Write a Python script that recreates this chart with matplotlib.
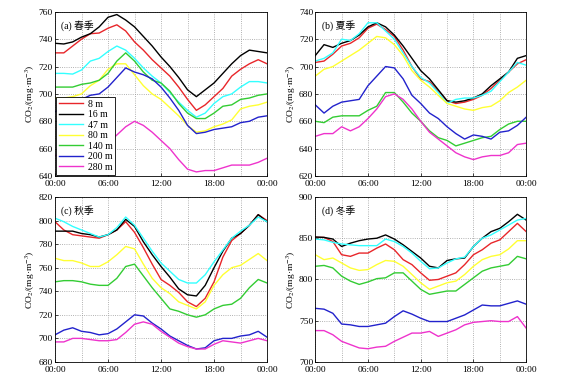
import numpy as np
import matplotlib
matplotlib.use('Agg')
import matplotlib.pyplot as plt
from matplotlib.ticker import MultipleLocator, FuncFormatter

plt.rcParams['font.family'] = ['Liberation Serif', 'Noto Sans CJK SC']
plt.rcParams['mathtext.fontset'] = 'stix'

# hours of the day
hours = np.arange(25)

heights = ['8 m', '16 m', '47 m', '80 m', '140 m', '200 m', '280 m']
colors = ['#e8262a', '#000000', '#33ffff', '#ffff33', '#33cc33', '#2222cc', '#ee33cc']

# (a) spring
spring_8 = [730, 730, 735, 740, 744, 744.5, 748, 750.5, 746, 738, 732, 725, 719, 713, 705, 696, 688, 692, 698, 704, 713, 718, 722, 725, 722]
spring_16 = [737, 736.5, 738, 741.5, 744, 749, 756, 758, 754, 749, 742, 735, 727, 720, 712, 703, 698, 703, 708, 715, 722, 728, 732, 731, 730]
spring_47 = [715, 715, 714.5, 717.5, 724, 726, 731, 735, 732, 726, 719, 713, 708, 701, 694, 688, 683, 686, 693, 698, 700, 705, 709, 709, 708]
spring_80 = [697, 697, 698, 700, 706, 710, 718, 722, 722, 714, 706, 700, 696, 690, 684, 677, 672, 673, 676, 678, 681, 689, 691, 692, 694]
spring_140 = [705, 705, 705, 707, 708, 710, 715, 724, 730, 724, 716, 710, 708, 702, 693, 686, 682, 682, 686, 691, 692, 696, 697, 699, 700]
spring_200 = [687, 690, 693, 696, 699, 700, 705, 712, 719, 716, 714, 711, 705, 697, 688, 677, 671, 672, 674, 675, 676, 679, 680, 683, 684]
spring_280 = [655, 656, 656, 658, 660, 662, 664, 670, 676, 680, 677, 672, 666, 660, 652, 645, 643, 644, 644, 646, 648, 648, 648, 650, 653]

# (b) summer
summer_8 = [703, 704, 709, 715, 717, 721, 728, 731, 727, 722, 712, 700, 691, 689, 682, 675, 673, 674, 676, 679, 684, 690, 696, 702, 705]
summer_16 = [708, 716, 714, 717, 719, 723, 729, 732, 729, 723, 715, 706, 697, 691, 683, 675, 674, 675, 677, 680, 686, 691, 696, 706, 708]
summer_47 = [704, 706, 710, 720, 719, 724, 732, 732, 726, 720, 710, 700, 692, 688, 681, 673, 676, 677, 677, 679, 682, 689, 696, 703, 701]
summer_80 = [693, 698, 700, 704, 708, 712, 717, 722, 721, 716, 708, 697, 690, 685, 679, 673, 671, 669, 668, 670, 671, 675, 681, 685, 690]
summer_140 = [660, 659, 663, 664, 664, 664, 668, 671, 681, 681, 674, 666, 660, 653, 648, 646, 642, 644, 646, 648, 649, 654, 658, 660, 660]
summer_200 = [672, 666, 671, 674, 675, 676, 686, 693, 700, 699, 691, 679, 673, 666, 662, 656, 651, 647, 650, 649, 647, 652, 653, 657, 663]
summer_280 = [649, 651, 651, 656, 653, 656, 662, 669, 678, 680, 676, 669, 660, 652, 647, 642, 637, 634, 632, 634, 635, 635, 637, 643, 644]

# (c) autumn
autumn_8 = [799, 792, 788, 787, 786, 785, 788, 792, 799, 790, 777, 763, 750, 745, 739, 731, 727, 734, 748, 769, 783, 789, 796, 805, 800]
autumn_16 = [791, 791, 791, 789, 788, 786, 788, 792, 801, 795, 782, 771, 761, 752, 742, 737, 736, 745, 760, 774, 785, 789, 796, 805, 799]
autumn_47 = [802, 799, 795, 792, 789, 786, 788, 794, 803, 796, 785, 774, 764, 757, 750, 747, 747, 754, 765, 775, 785, 791, 796, 803, 799]
autumn_80 = [768, 766, 766, 764, 761, 761, 765, 771, 778, 776, 763, 751, 743, 738, 731, 728, 725, 731, 745, 754, 760, 762, 767, 772, 766]
autumn_140 = [748, 749, 749, 748, 746, 745, 745, 751, 761, 763, 753, 743, 734, 725, 723, 720, 718, 720, 725, 728, 729, 734, 743, 750, 747]
autumn_200 = [703, 707, 709, 706, 705, 703, 704, 708, 714, 720, 719, 713, 708, 702, 698, 694, 691, 692, 698, 700, 700, 702, 703, 706, 701]
autumn_280 = [697, 697, 700, 700, 699, 698, 698, 699, 705, 712, 714, 712, 706, 701, 696, 693, 691, 691, 695, 698, 697, 696, 698, 700, 698]

# (d) winter
winter_8 = [851, 851, 846, 830, 828, 832, 832, 838, 843, 836, 824, 818, 808, 799, 800, 804, 808, 818, 830, 836, 844, 848, 858, 868, 858]
winter_16 = [851.5, 851, 849, 840, 844, 847, 849, 850, 854, 849, 842, 834, 826, 816, 814, 823, 825, 826, 840, 850, 858, 862, 870, 879, 872]
winter_47 = [849, 848, 845, 843, 842, 841, 841, 841, 849, 846, 840, 832, 822, 813, 814, 820, 825, 827, 840, 850, 854, 860, 866, 872, 874]
winter_80 = [830, 824, 826, 820, 814, 811, 812, 818, 823, 822, 816, 806, 796, 788, 792, 796, 798, 806, 816, 824, 828, 830, 837, 847, 847]
winter_140 = [816, 817, 814, 804, 798, 794, 797, 801, 802, 808, 808, 798, 788, 782, 784, 786, 786, 794, 802, 810, 814, 816, 818, 828, 825]
winter_200 = [765, 764, 759, 746, 745, 743, 743, 745, 747, 755, 762, 758, 753, 749, 749, 749, 753, 757, 763, 769, 768, 768, 771, 774, 770]
winter_280 = [738, 738, 733, 725, 721, 717, 716, 718, 719, 725, 730, 735, 735, 737, 731, 735, 739, 745, 748, 749, 750, 749, 749, 755, 741]

panels = [
    ('(a) 春季', [spring_8, spring_16, spring_47, spring_80, spring_140, spring_200, spring_280], (640, 760), 20),
    ('(b) 夏季', [summer_8, summer_16, summer_47, summer_80, summer_140, summer_200, summer_280], (620, 740), 20),
    ('(c) 秋季', [autumn_8, autumn_16, autumn_47, autumn_80, autumn_140, autumn_200, autumn_280], (680, 820), 20),
    ('(d) 冬季', [winter_8, winter_16, winter_47, winter_80, winter_140, winter_200, winter_280], (700, 900), 50),
]

fig = plt.figure(figsize=(5.67, 3.81), dpi=100)
boxes = [
    [0.097, 0.538, 0.374, 0.431],
    [0.556, 0.538, 0.372, 0.431],
    [0.097, 0.050, 0.374, 0.433],
    [0.556, 0.050, 0.372, 0.433],
]

for i, (title, series, ylim, ystep) in enumerate(panels):
    ax = fig.add_axes(boxes[i])
    for vals, lab, c in zip(series, heights, colors):
        ax.plot(hours, vals, color=c, lw=1.0, label=lab)
    ax.set_xlim(0, 24)
    ax.set_ylim(*ylim)
    ax.xaxis.set_major_locator(MultipleLocator(6))
    ax.xaxis.set_minor_locator(MultipleLocator(3))
    ax.xaxis.set_major_formatter(FuncFormatter(lambda v, p: '%02d:00' % (int(v) % 24)))
    ax.yaxis.set_major_locator(MultipleLocator(ystep))
    ax.grid(True, which='both', axis='x', ls=':', color='#999999', lw=0.6)
    ax.grid(True, which='major', axis='y', ls=':', color='#999999', lw=0.6)
    ax.tick_params(which='both', direction='in', labelsize=6.8, length=2, width=0.5, pad=1.5)
    ax.tick_params(axis='x', pad=3)
    ax.tick_params(which='minor', length=0)
    for s in ax.spines.values():
        s.set_linewidth(0.6)
    ax.set_ylabel('CO$_2$/(mg·m$^{-3}$)', fontsize=6.8, labelpad=1)
    ax.text(0.03, 0.95, title, transform=ax.transAxes, fontsize=7, va='top', ha='left')
    if i == 0:
        leg = ax.legend(loc='lower left', fontsize=7, handlelength=2.4, handletextpad=0.5,
                        labelspacing=0.15, borderpad=0.3, borderaxespad=0.15,
                        fancybox=False, framealpha=1, edgecolor='black')
        leg.get_frame().set_linewidth(0.6)

fig.savefig('out.png', dpi=100)
